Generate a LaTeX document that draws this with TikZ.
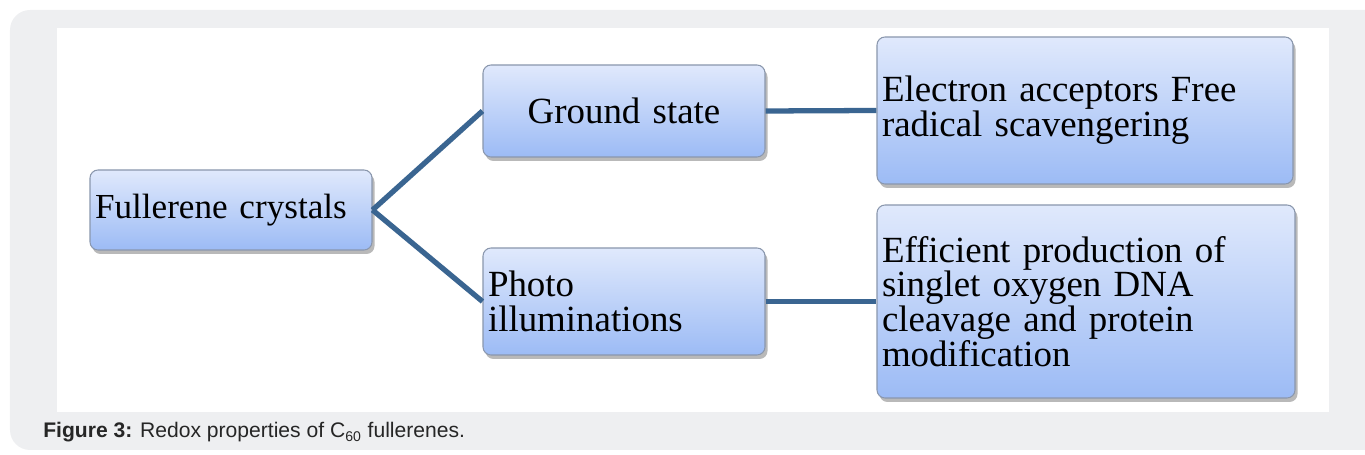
\documentclass[tikz,border=0pt]{standalone}
\usepackage{fontspec}
\setmainfont{Liberation Serif}
\newfontfamily\captionfont{Liberation Sans}
\usetikzlibrary{positioning,shadows}
\definecolor{panelgray}{HTML}{EEEFF1}
\definecolor{boxtop}{HTML}{E0E9FC}
\definecolor{boxbottom}{HTML}{9CBBF5}
\definecolor{boxline}{HTML}{8A97AD}
\definecolor{linkblue}{HTML}{3A6591}
% box text with tight word spaces
\newcommand\boxtext[1]{\fontsize{#1}{19.8}\selectfont\spaceskip=0.16em plus 0.04em\relax}

\begin{document}
\begin{tikzpicture}
	% styles for the boxes and the lines between them
	\tikzset{
		box/.style={draw=boxline, line width=0.6pt, rounded corners=0.16cm,
			top color=boxtop, bottom color=boxbottom, % light blue gradient
			drop shadow={opacity=0.55, shadow xshift=0.05cm, shadow yshift=-0.08cm},
			inner sep=0.1cm, align=left, font=\boxtext{21}},
		link/.style={draw=linkblue, line width=3pt},
	}
	\useasboundingbox (0,0) rectangle (27.3,9.1);
	% page panel and white figure area
	\fill[panelgray, rounded corners=0.4cm] (0.2,0.1) rectangle (27.9,8.9);
	\fill[white] (1.14,0.86) rectangle (26.58,8.54);
	% the boxes
	\node[box, text width=5.44cm, minimum height=1.6cm, font=\boxtext{20}] (crystals) at (4.62,4.9) {Fullerene crystals};
	\node[box, text width=5.44cm, minimum height=1.84cm, align=center] (ground) at (12.48,6.88) {Ground state};
	\node[box, text width=5.44cm, minimum height=2.14cm] (photo) at (12.48,3.07) {Photo\\illuminations};
	\node[box, text width=8.12cm, minimum height=2.94cm] (acceptors) at (21.7,6.89) {Electron acceptors Free\\radical scavengering};
	\node[box, text width=8.16cm, minimum height=3.86cm] (singlet) at (21.72,3.07) {Efficient production of\\singlet oxygen DNA\\cleavage and protein\\modification};
	% lines between the boxes
	\draw[link] (crystals.east) -- (ground.west);
	\draw[link] (crystals.east) -- (photo.west);
	\draw[link] (ground.east) -- (acceptors.west);
	\draw[link] (photo.east) -- (singlet.west);
	% caption under the figure
	\node[anchor=base west, text=black!85, inner sep=0pt, font=\captionfont\fontsize{12}{14}\selectfont] (caption) at (0.86,0.34) {\textbf{Figure 3:} Redox properties of C\textsubscript{60} fullerenes.};
\end{tikzpicture}
\end{document}
